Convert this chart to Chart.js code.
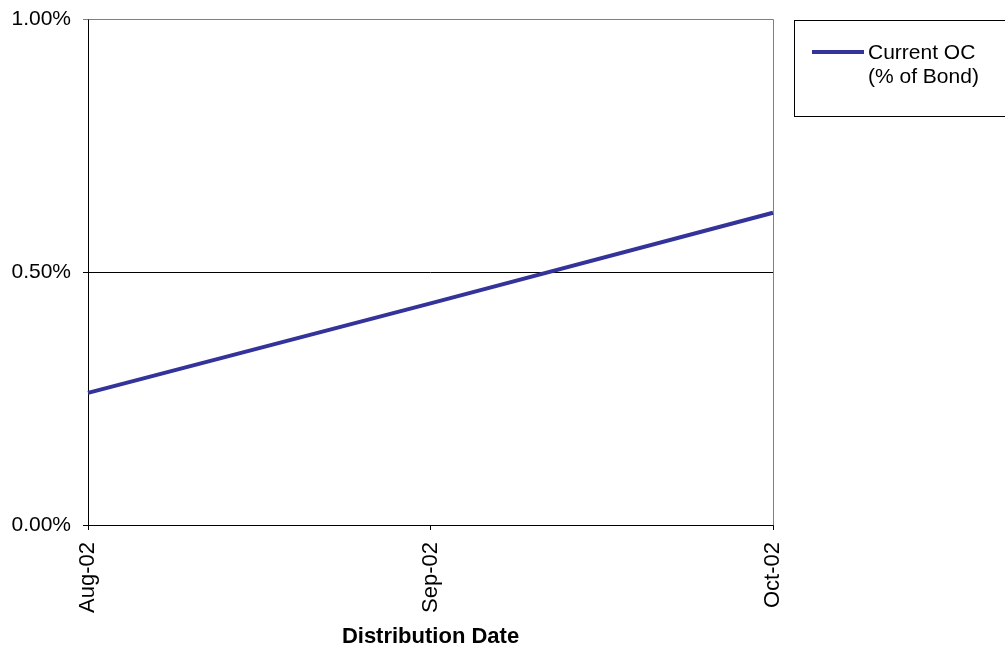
<!DOCTYPE html>
<html>
<head>
<meta charset="utf-8">
<script src="https://cdn.jsdelivr.net/npm/chart.js@4/dist/chart.umd.min.js"></script>
<style>
  html, body { margin: 0; padding: 0; background: #ffffff; }
  #wrap { width: 1005px; height: 648px; position: relative; }
</style>
</head>
<body>
<div id="wrap"><canvas id="c" width="1005" height="648"></canvas></div>
<script>
// Distribution dates and the current over-collateralisation level (fraction of bond balance)
const categories = ['Aug-02', 'Sep-02', 'Oct-02'];
const currentOC = [0.00261, 0.00438, 0.00617];
const seriesLabel = ['Current OC', '(% of Bond)'];
const yTicks = [0, 0.005, 0.01];

const FONT = 'Arial, "Liberation Sans", sans-serif';
const LINE_COLOR = '#333399';

// Plot frame: black left/bottom, grey top/right
const framePlugin = {
  id: 'frame',
  beforeDatasetsDraw(chart) {
    const { ctx, chartArea: a } = chart;
    const top = Math.round(a.top) + 0.5;
    const right = Math.round(a.right) + 0.5;
    const left = Math.round(a.left) + 0.5;
    const bottom = Math.round(a.bottom) + 0.5;
    ctx.save();
    ctx.lineWidth = 1;
    ctx.strokeStyle = '#808080';
    ctx.beginPath();
    ctx.moveTo(left, top);
    ctx.lineTo(right, top);
    ctx.lineTo(right, bottom);
    ctx.stroke();
    ctx.strokeStyle = '#000000';
    ctx.beginPath();
    ctx.moveTo(left, top);
    ctx.lineTo(left, bottom);
    ctx.lineTo(right, bottom);
    ctx.stroke();
    ctx.restore();
  }
};

// Boxed legend to the right of the plot
const boxLegendPlugin = {
  id: 'boxLegend',
  afterDraw(chart) {
    const { ctx } = chart;
    const ds = chart.data.datasets[0];
    const x0 = 794.5, y0 = 20.5, w = 230, h = 96;
    ctx.save();
    ctx.fillStyle = '#ffffff';
    ctx.fillRect(x0, y0, w, h);
    ctx.lineWidth = 1;
    ctx.strokeStyle = '#000000';
    ctx.strokeRect(x0, y0, w, h);
    ctx.strokeStyle = ds.borderColor;
    ctx.lineWidth = ds.borderWidth;
    ctx.beginPath();
    ctx.moveTo(812, 52);
    ctx.lineTo(864, 52);
    ctx.stroke();
    ctx.fillStyle = '#000000';
    ctx.font = '21px ' + FONT;
    ctx.textBaseline = 'middle';
    ctx.textAlign = 'left';
    const lines = Array.isArray(ds.label) ? ds.label : [ds.label];
    lines.forEach((t, i) => ctx.fillText(t, 868, 53 + i * 24));
    ctx.restore();
  }
};

new Chart(document.getElementById('c'), {
  type: 'line',
  data: {
    labels: categories,
    datasets: [{
      label: seriesLabel,
      data: currentOC,
      borderColor: LINE_COLOR,
      backgroundColor: LINE_COLOR,
      borderWidth: 4,
      pointRadius: 0,
      tension: 0,
      fill: false
    }]
  },
  options: {
    responsive: false,
    animation: false,
    devicePixelRatio: 1,
    layout: { padding: { top: 19, right: 232, left: 0, bottom: 0 } },
    plugins: {
      legend: { display: false },
      tooltip: { enabled: false }
    },
    scales: {
      x: {
        type: 'category',
        offset: false,
        border: { display: false },
        grid: {
          drawOnChartArea: false,
          drawTicks: true,
          tickLength: 5,
          color: '#000000'
        },
        ticks: {
          color: '#000000',
          font: { family: FONT, size: 22 },
          minRotation: 90,
          maxRotation: 90,
          padding: 12
        },
        title: {
          display: true,
          text: 'Distribution Date',
          color: '#000000',
          font: { family: FONT, size: 22, weight: 'bold', lineHeight: 1 },
          padding: { top: 0, bottom: 0 }
        },
        afterFit(scale) {
          scale.height = 123;
          scale.paddingLeft = 0;
          scale.paddingRight = 0;
        }
      },
      y: {
        min: 0,
        max: 0.01,
        border: { display: false },
        afterBuildTicks(scale) { scale.ticks = yTicks.map(v => ({ value: v })); },
        grid: {
          drawTicks: true,
          tickLength: 5,
          color: (c) => (c.tick && c.tick.value === yTicks[yTicks.length - 1]) ? '#808080' : '#000000',
          lineWidth: 1
        },
        ticks: {
          color: '#000000',
          font: { family: FONT, size: 21 },
          padding: 12,
          callback: v => (v * 100).toFixed(2) + '%'
        },
        afterFit(scale) {
          scale.width = 88;
          scale.paddingTop = 0;
          scale.paddingBottom = 0;
        }
      }
    }
  },
  plugins: [framePlugin, boxLegendPlugin]
});
</script>
</body>
</html>
